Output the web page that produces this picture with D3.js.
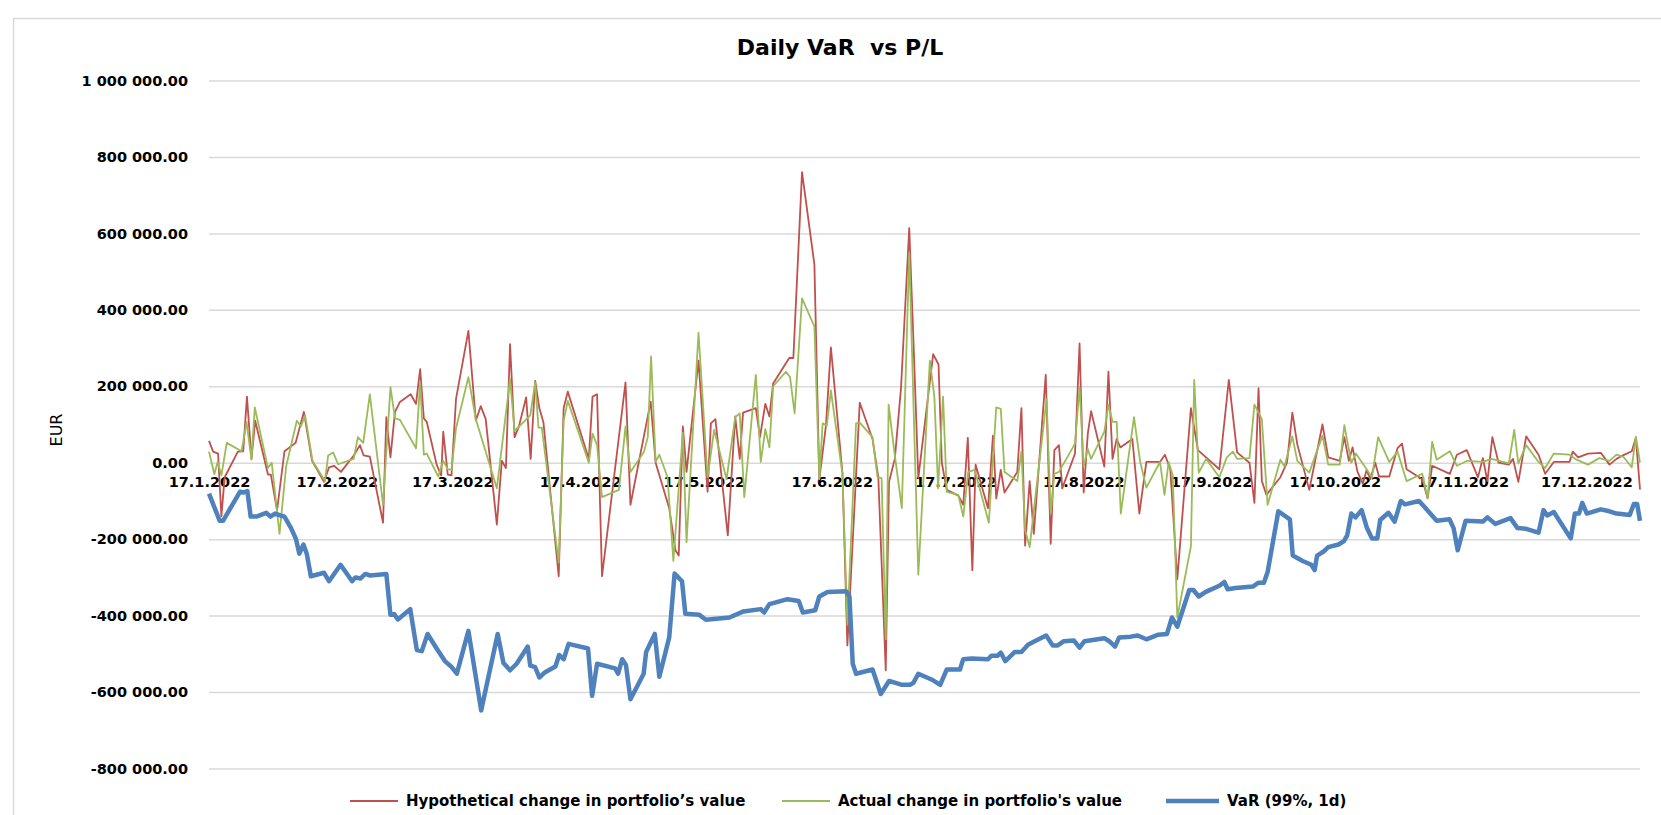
<!DOCTYPE html>
<html>
<head>
<meta charset="utf-8">
<script src="https://cdn.jsdelivr.net/npm/d3@7"></script>
<style>
  html, body { margin: 0; padding: 0; background: #fff; }
  svg { display: block; font-family: "DejaVu Sans", Verdana, sans-serif; }
</style>
</head>
<body>
<svg id="chart" width="1661" height="815"></svg>
<script>
// axis labels
const dateLabels = ["17.1.2022", "17.2.2022", "17.3.2022", "17.4.2022", "17.5.2022", "17.6.2022",
  "17.7.2022", "17.8.2022", "17.9.2022", "17.10.2022", "17.11.2022", "17.12.2022"];
const yTicks = [1000000, 800000, 600000, 400000, 200000, 0, -200000, -400000, -600000, -800000];

// day offsets from 17.1.2022, values in thousand EUR
const hypDay = [0,1,2.2,3,3.8,7,8.3,9.2,10.3,11.2,14.3,15,16.5,18.3,21,23,25,27.9,29.1,30.3,32,35.1,36.6,37.5,39,42.2,43,44,45.1,46.3,48.9,50.2,51.2,52.1,52.8,55.2,56.3,56.8,57.9,58.8,59.9,62.9,64.7,65.9,67.1,69.8,71,72,73,74.1,75.1,76.9,78,79.1,80.1,81.1,84.8,86,87,92.1,93,94.1,95.3,101,102.2,107.1,108.3,111.6,113.1,113.9,114.9,115.8,118.7,120.9,121.7,122.8,125.8,127.6,128.7,129.5,132.6,133.6,134.9,135.9,136.8,140.7,141.7,143.8,146.8,148,149.6,150.8,153.6,154.8,157.8,160.9,162.3,164.1,164.9,166.3,167.8,169.8,170.8,172,175.6,176.9,177.7,178.9,181.7,182.9,184,185.1,185.9,188.9,190.1,190.9,192,192.9,196,197,197.9,199,200,202.9,204.1,205,206.1,206.9,210,211.1,212.1,213.1,213.9,217.1,218.1,219.1,220.1,221,223.9,225.6,227.3,230.6,231.8,233.1,234.8,238.1,239.8,245,247.3,249.3,252.3,253.5,254.5,255.3,256.4,259.8,261.4,262.7,263.9,266.8,270,271.4,274.2,275.3,276.4,277.3,278.5,279.8,280.7,281.6,282.8,283.7,286.2,288.2,289.3,290.4,294.2,295.5,296.6,300.9,302.6,305,307.7,308.9,310,311.2,312.7,315.2,316.2,317.5,319.4,322.4,324,326.1,329.9,330.7,332,334.4,337.5,339.6,341.3,343,345,346,347];
const hypVal = [57,29,24,-140,-38,29,30,173,10,110,-31,-31,-125,30,52,133,5,-50,-12,-8,-24,19,46,19,16,-157,119,14,133,159,179,154,245,116,107,-5,-33,81,-31,-33,167,345,110,148,114,-162,5,-14,310,67,93,171,10,214,143,105,-297,143,186,10,173,179,-297,210,-110,160,0,-119,-229,-243,95,-24,267,-76,103,114,-190,121,10,131,143,67,154,121,207,274,274,760,519,-43,97,302,-27,-478,157,62,-38,-543,-50,10,195,614,324,-40,284,257,0,-71,-86,-110,65,-281,-5,-119,71,-93,-19,-78,-24,143,-217,-48,-186,230,-212,33,46,-67,24,312,-78,76,135,-10,238,10,62,40,62,-133,2,2,21,-17,-305,143,33,-17,217,27,0,-105,195,-48,-84,-38,0,131,48,-71,100,14,5,67,5,40,-24,-55,-19,-43,0,-36,-36,38,50,-17,-43,-93,-8,-29,21,33,-38,12,-48,67,0,-5,10,-50,69,21,-29,2,2,29,14,24,26,-5,10,20,30,65,-70];

const actDay = [0,1.3,2.1,3,4.3,7.9,9.1,10.3,11.1,14.3,15.2,17.1,18.7,21.3,22.3,23.3,25.1,28.1,28.9,30.1,31.3,35.1,36.1,37.4,39,42.2,44,45.1,46.3,50.2,51.2,52.1,52.8,55.6,56.8,57.9,58.8,59.9,62.9,64.7,69.8,73,74.1,77.9,79.1,79.9,80.7,84.8,86,87,92.1,93,94.1,95.3,99.4,101,102.2,105.5,106.4,107.2,108.3,109.2,111.2,112.6,114.9,115.8,118.7,120.9,122.5,125.5,127.6,128.7,129.8,132.6,133.8,134.9,135.9,136.8,139.9,140.9,142,143.8,146.8,148,148.8,149.8,150.8,153.6,154.8,156.9,157.8,160.9,162.1,163.1,164.1,164.8,166,168,169.8,172,174.8,175.9,176.8,178,178.9,181.7,182.9,184.1,185.7,189.1,190.9,192,192.9,196,197,197.9,199,203.1,204.1,205,206.1,210,211.1,212.1,213.1,213.9,217.1,218.1,219.1,220.1,221.1,224.3,225.8,227.3,230.6,231.7,232.7,233.7,234.8,238.1,238.9,240,241.8,245,246.8,248.3,249.3,252.3,253.5,255.3,256.7,259.8,260.8,262.7,263.9,266.8,270,271.4,274.2,275.3,277,278.1,280.5,282,283.5,286.2,288.2,290.4,294.2,295.5,296.6,297.7,300.9,302.6,305.1,308.9,311,315.2,316.5,317.5,319.4,322.4,324,326.1,329.9,331.6,334.4,337.1,339.6,341.3,343,345,346,347];
const actVal = [29,-30,2,-33,52,30,107,8,145,-14,0,-186,-10,110,95,124,5,-48,19,27,-4,10,67,52,179,-110,198,116,112,38,211,21,24,-36,5,-17,-19,90,224,114,-67,219,83,124,210,92,92,-262,110,162,0,76,46,-90,-71,95,-24,29,67,278,2,21,-38,-257,78,-208,340,-38,86,-43,119,129,-90,230,2,88,40,200,238,224,129,430,357,-43,103,97,189,-29,-424,103,105,67,-38,-40,-462,152,45,-119,548,-293,267,171,-67,173,-76,-84,-141,-24,-19,-157,145,141,-24,-48,29,-176,-221,167,-133,-29,-24,50,198,-10,36,10,81,152,107,107,-133,119,2,-65,2,-84,2,-33,-405,-219,217,-26,10,-38,14,29,10,12,152,114,-110,8,-10,69,5,-26,71,-5,-5,98,0,24,-14,-38,67,2,29,-48,-29,-93,55,8,30,-8,5,2,10,-2,86,-2,46,2,-14,24,21,8,-5,12,5,21,15,-12,68,0];

const varDay = [0,2.6,3.4,7.5,8.3,9.3,10.1,11.5,13.9,14.9,16,17.3,18.3,19.9,21.1,21.9,22.9,23.7,24.7,27.9,29.1,31.9,34.7,35.5,36.7,37.9,39.1,43,44,44.9,45.8,48.8,50.4,51.6,53,55.2,57.2,58.7,60.1,62.9,66,70,71.4,73,74.6,77.3,77.9,79.1,80.1,81.5,84,84.9,86,87.2,91.9,92.9,94.1,98.5,99.2,100.2,101.1,102.2,105.4,106,108.1,109.2,111.6,112.9,114.7,115.5,118.9,120.5,126.2,129.6,133.8,134.6,135.9,140.3,143,144,147,148,150,154.5,155.3,156.1,156.9,160.9,162.9,164.9,166.5,168,170,170.8,172,175.2,177.3,178.9,182.1,182.9,184.9,188.9,189.7,191.2,192,193.1,195.4,197,198.6,200.2,203,204.6,205.8,207.3,209.7,211.1,212.3,217.1,218.3,219.7,220.7,223.5,225.2,227.3,230.2,232.3,233.5,234.8,237.7,238.7,240,241.7,245,246.2,247,248.9,253.1,254.5,255.8,256.7,259.3,262.1,262.8,265.2,267.3,268.1,268.7,270.2,271.4,273.9,275.2,276,277,278,279.5,280.8,282,283.3,284,286,287.5,289,290,293.4,294.6,297.7,300.8,301.8,302.8,304.7,308.9,310,311.9,315.6,317.3,319.4,322.4,323.6,324.5,326.1,330.2,331.2,332.2,333,334.1,337.5,339.6,341.3,343,344.5,345.5,346.3,347];
const varVal = [-81,-152,-152,-76,-78,-74,-141,-141,-131,-141,-133,-138,-141,-171,-200,-238,-214,-238,-297,-288,-310,-267,-310,-300,-303,-291,-295,-291,-398,-396,-410,-383,-490,-493,-448,-486,-519,-533,-552,-440,-648,-448,-524,-543,-526,-481,-531,-535,-562,-548,-533,-503,-514,-474,-486,-610,-526,-538,-552,-514,-529,-619,-552,-495,-448,-560,-457,-290,-310,-395,-398,-411,-405,-389,-383,-392,-370,-357,-362,-392,-386,-350,-338,-336,-350,-526,-552,-541,-605,-571,-576,-581,-581,-576,-552,-567,-581,-541,-541,-514,-512,-514,-505,-505,-497,-519,-495,-495,-476,-467,-452,-478,-478,-467,-465,-484,-467,-459,-467,-481,-457,-455,-452,-462,-450,-448,-405,-429,-333,-333,-350,-338,-322,-312,-331,-328,-324,-314,-314,-286,-127,-148,-243,-257,-267,-281,-243,-233,-221,-214,-205,-190,-133,-143,-124,-171,-198,-198,-150,-131,-154,-100,-109,-100,-114,-152,-148,-171,-229,-152,-154,-143,-160,-145,-171,-173,-183,-124,-138,-129,-198,-133,-133,-105,-133,-122,-127,-133,-135,-137,-108,-108,-152];

const seriesNames = ["Hypothetical change in portfolio’s value", "Actual change in portfolio's value", "VaR (99%, 1d)"];

const svg = d3.select('#chart');
const start = Date.UTC(2022, 0, 17);
const toDate = d => new Date(start + d * 864e5);
const left = 209, right = 1640;

const x = d3.scaleUtc().domain([toDate(0), toDate(347)]).range([left, right]);
const y = d3.scaleLinear().domain([-800000, 1000000]).range([768.5, 80.5]);

// chart frame
svg.append('rect')
  .attr('x', 13.5).attr('y', 18.5).attr('width', 1700).attr('height', 900)
  .attr('fill', 'none').attr('stroke', '#d9d9d9').attr('stroke-width', 1.5);

// title
svg.append('text')
  .attr('x', 840).attr('y', 55)
  .attr('text-anchor', 'middle')
  .style('font-size', '22px').style('font-weight', 'bold')
  .text('Daily VaR  vs P/L')
  .attr('xml:space', 'preserve').style('white-space', 'pre');

// y axis + gridlines
const fmt = d3.formatLocale({ decimal: '.', thousands: ' ', grouping: [3], currency: ['', ''], minus: '-' }).format(',.2f');
const yAxis = svg.append('g')
  .attr('transform', `translate(${left},0)`)
  .call(d3.axisLeft(y).tickValues(yTicks).tickFormat(fmt).tickSize(-(right - left)).tickPadding(21));
yAxis.select('.domain').remove();
yAxis.attr('font-family', null).attr('font-size', null);
yAxis.selectAll('.tick line').attr('stroke', '#d9d9d9').attr('stroke-width', 1.5);
yAxis.selectAll('.tick text')
  .attr('fill', '#000').style('font-size', '14.5px').style('font-weight', 'bold');

svg.append('text')
  .attr('transform', 'translate(62,430) rotate(-90)')
  .attr('text-anchor', 'middle')
  .style('font-size', '16px')
  .text('EUR');

// x axis labels sit just under the zero line
const parseDate = d3.utcParse('%d.%m.%Y');
const xAxis = svg.append('g')
  .attr('transform', `translate(0,${y(0)})`)
  .call(d3.axisBottom(x).tickValues(dateLabels.map(parseDate))
    .tickFormat((d, i) => dateLabels[i]).tickSize(0).tickPadding(14));
xAxis.select('.domain').remove();
xAxis.attr('font-family', null).attr('font-size', null);
xAxis.selectAll('.tick text')
  .attr('fill', '#000').style('font-size', '14.5px').style('font-weight', 'bold');

// lines
const line = d3.line().x(d => x(toDate(d[0]))).y(d => y(d[1] * 1000));
const series = [
  { pts: d3.zip(hypDay, hypVal), color: '#C0504D', width: 1.8 },
  { pts: d3.zip(actDay, actVal), color: '#9BBB59', width: 1.8 },
  { pts: d3.zip(varDay, varVal), color: '#4F81BD', width: 4.5 }
];
svg.append('g').selectAll('path')
  .data(series).join('path')
  .attr('d', d => line(d.pts))
  .attr('fill', 'none')
  .attr('stroke', d => d.color)
  .attr('stroke-width', d => d.width)
  .attr('stroke-linejoin', 'round');

// legend
const legendX = [350, 782, 1166];
const legend = svg.append('g').selectAll('g')
  .data(series).join('g')
  .attr('transform', (d, i) => `translate(${legendX[i]},801)`);
legend.append('line')
  .attr('x1', 0).attr('x2', (d, i) => i === 2 ? 53 : 48)
  .attr('stroke', d => d.color).attr('stroke-width', d => d.width);
legend.append('text')
  .attr('x', (d, i) => i === 2 ? 61 : 56).attr('dy', '0.35em')
  .style('font-size', '15px').style('font-weight', 'bold')
  .text((d, i) => seriesNames[i]);
</script>
</body>
</html>
